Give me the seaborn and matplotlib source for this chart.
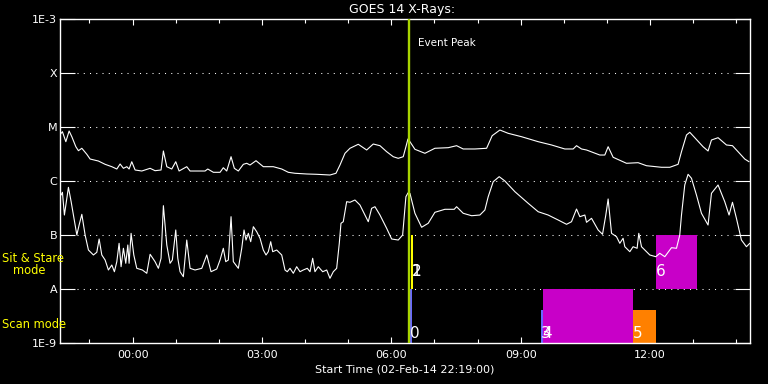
import matplotlib
matplotlib.use("Agg")
import numpy as np
import pandas as pd
import matplotlib.pyplot as plt
import seaborn as sns
from matplotlib.ticker import FixedLocator, NullLocator

# ---------------- data (hours relative to 03-Feb-14 00:00, log10 flux W/m^2) -------------
long_t = [-1.657, -1.627, -1.548, -1.472, -1.409, -1.316, -1.256, -1.177, -1.061, -0.985,
          -0.793, -0.637, -0.482, -0.366, -0.290, -0.213, -0.134, -0.081, -0.019, 0.058,
          0.213, 0.406, 0.521, 0.660, 0.714, 0.793, 0.908, 1.001, 1.078, 1.256,
          1.333, 1.680, 1.743, 1.873, 2.028, 2.104, 2.183, 2.283, 2.359, 2.452,
          2.568, 2.647, 2.723, 2.862, 3.031, 3.263, 3.458, 3.611, 3.766, 4.037,
          4.269, 4.577, 4.716, 4.809, 4.925, 5.041, 5.233, 5.428, 5.581, 5.736,
          5.891, 6.044, 6.160, 6.276, 6.338, 6.385, 6.431, 6.547, 6.779, 7.010,
          7.319, 7.513, 7.666, 7.937, 8.209, 8.338, 8.517, 8.709, 9.020, 9.405,
          9.715, 10.023, 10.216, 10.294, 10.410, 10.526, 10.834, 10.950, 11.027, 11.143,
          11.453, 11.722, 11.917, 12.264, 12.457, 12.649, 12.728, 12.844, 12.920, 13.036,
          13.228, 13.344, 13.423, 13.576, 13.771, 13.910, 14.039, 14.195, 14.294]
long_logf = [-5.117, -5.087, -5.272, -5.074, -5.180, -5.365, -5.439, -5.394, -5.506, -5.593,
             -5.630, -5.691, -5.735, -5.778, -5.685, -5.765, -5.735, -5.778, -5.643, -5.796,
             -5.815, -5.765, -5.809, -5.796, -5.444, -5.735, -5.778, -5.643, -5.815, -5.735,
             -5.815, -5.815, -5.778, -5.839, -5.839, -5.754, -5.815, -5.550, -5.765, -5.815,
             -5.691, -5.672, -5.704, -5.624, -5.735, -5.735, -5.778, -5.839, -5.857, -5.870,
             -5.876, -5.889, -5.857, -5.704, -5.487, -5.394, -5.320, -5.426, -5.315, -5.346,
             -5.457, -5.550, -5.580, -5.550, -5.365, -5.222, -5.272, -5.413, -5.487, -5.394,
             -5.383, -5.346, -5.407, -5.407, -5.394, -5.161, -5.056, -5.117, -5.180, -5.272,
             -5.333, -5.407, -5.407, -5.346, -5.407, -5.426, -5.519, -5.519, -5.365, -5.561,
             -5.672, -5.661, -5.717, -5.746, -5.746, -5.691, -5.457, -5.148, -5.098, -5.198,
             -5.365, -5.444, -5.241, -5.198, -5.333, -5.346, -5.457, -5.593, -5.643]

short_t = [-1.657, -1.627, -1.581, -1.541, -1.488, -1.425, -1.372, -1.293, -1.240, -1.177,
           -1.101, -1.024, -0.908, -0.830, -0.776, -0.714, -0.637, -0.561, -0.482, -0.422,
           -0.366, -0.313, -0.267, -0.213, -0.158, -0.111, -0.081, -0.035, 0.028, 0.097,
           0.227, 0.329, 0.406, 0.521, 0.598, 0.660, 0.714, 0.793, 0.869, 0.922,
           1.001, 1.048, 1.101, 1.177, 1.256, 1.333, 1.448, 1.604, 1.720, 1.819,
           1.951, 2.028, 2.104, 2.160, 2.220, 2.283, 2.336, 2.452, 2.531, 2.584,
           2.630, 2.684, 2.739, 2.800, 2.878, 2.955, 3.031, 3.094, 3.147, 3.203,
           3.249, 3.342, 3.458, 3.534, 3.587, 3.650, 3.727, 3.805, 3.882, 3.958,
           4.051, 4.114, 4.176, 4.229, 4.306, 4.408, 4.501, 4.577, 4.654, 4.732,
           4.793, 4.832, 4.885, 4.964, 5.041, 5.156, 5.272, 5.388, 5.465, 5.543,
           5.620, 5.736, 5.891, 6.007, 6.160, 6.262, 6.338, 6.385, 6.431, 6.547,
           6.702, 6.855, 7.010, 7.242, 7.458, 7.513, 7.666, 7.861, 8.053, 8.169,
           8.246, 8.362, 8.501, 8.633, 8.865, 9.173, 9.405, 9.636, 9.868, 10.063,
           10.178, 10.294, 10.371, 10.487, 10.526, 10.642, 10.795, 10.897, 10.973, 11.027,
           11.106, 11.221, 11.298, 11.374, 11.414, 11.530, 11.606, 11.699, 11.738, 11.801,
           11.877, 11.993, 12.132, 12.225, 12.341, 12.417, 12.496, 12.612, 12.688, 12.728,
           12.804, 12.881, 12.960, 13.075, 13.191, 13.344, 13.423, 13.576, 13.731, 13.831,
           13.910, 14.002, 14.118, 14.234, 14.311]
short_logf = [-6.259, -6.209, -6.630, -6.413, -6.117, -6.383, -6.630, -7.000, -6.815, -6.617,
              -7.000, -7.278, -7.370, -7.320, -7.074, -7.370, -7.463, -7.648, -7.556, -7.680,
              -7.494, -7.154, -7.587, -7.246, -7.524, -7.185, -7.524, -6.969, -7.370, -7.617,
              -7.648, -7.709, -7.357, -7.494, -7.617, -7.431, -6.457, -7.185, -7.524, -7.463,
              -6.907, -7.431, -7.680, -7.772, -7.093, -7.617, -7.648, -7.617, -7.370, -7.680,
              -7.630, -7.463, -7.246, -7.494, -7.463, -6.661, -7.494, -7.617, -7.246, -6.907,
              -7.093, -6.969, -7.124, -6.846, -6.939, -7.061, -7.278, -7.370, -7.309, -7.124,
              -7.309, -7.278, -7.370, -7.648, -7.680, -7.617, -7.709, -7.587, -7.680, -7.648,
              -7.617, -7.680, -7.431, -7.680, -7.587, -7.680, -7.648, -7.802, -7.680, -7.617,
              -7.154, -6.783, -6.754, -6.383, -6.394, -6.352, -6.444, -6.630, -6.754, -6.506,
              -6.476, -6.630, -6.876, -7.074, -7.093, -7.000, -6.291, -6.222, -6.228, -6.598,
              -6.857, -6.783, -6.580, -6.524, -6.524, -6.476, -6.598, -6.643, -6.630, -6.537,
              -6.291, -6.013, -5.920, -6.000, -6.198, -6.413, -6.569, -6.630, -6.722, -6.802,
              -6.754, -6.519, -6.661, -6.630, -6.765, -6.691, -6.907, -6.987, -6.630, -6.333,
              -6.969, -7.031, -7.154, -7.061, -7.217, -7.309, -7.217, -7.246, -6.969, -7.217,
              -7.278, -7.370, -7.402, -7.339, -7.402, -7.320, -7.235, -7.246, -7.000, -6.630,
              -6.074, -5.876, -5.950, -6.259, -6.598, -6.815, -6.228, -6.074, -6.383, -6.630,
              -6.394, -6.691, -7.093, -7.217, -7.154]

event_peak = 6.412

ev_label = ["0", "1", "2", "3", "4", "5", "6"]
ev_start = [6.435, 6.455, 6.470, 9.467, 9.506, 11.599, 12.132]
ev_end = [6.475, 6.505, 6.505, 9.506, 11.599, 12.132, 13.082]
ev_low = [1e-9, 1e-8, 1e-8, 1e-9, 1e-9, 1e-9, 1e-8]
ev_high = [1e-8, 1e-7, 1e-7, 10 ** -8.39, 1e-8, 10 ** -8.39, 1e-7]
ev_color = ["#6868ff", "#ffff00", "#ffff00", "#6868ff", "#c800c8", "#ff8000", "#c800c8"]

xtick_pos = [0, 3, 6, 9, 12]
xtick_lab = ["00:00", "03:00", "06:00", "09:00", "12:00"]
ytick_pos = [1e-9, 1e-8, 1e-7, 1e-6, 1e-5, 1e-4, 1e-3]
ytick_lab = ["1E-9", "A", "B", "C", "M", "X", "1E-3"]

# ---------------- figure -------------------------------------------------------------
sns.set_theme(style="dark")
plt.rcParams["font.family"] = ["DejaVu Sans"]

W, H = 768, 384
fig = plt.figure(figsize=(W / 100, H / 100), dpi=100, facecolor="black")
ax = fig.add_axes([60 / W, (H - 343) / H, 690 / W, 324 / H])
ax.set_facecolor("black")
ax.set_yscale("log")

df = pd.concat([
    pd.DataFrame({"time": long_t, "flux": 10 ** np.array(long_logf), "channel": "long"}),
    pd.DataFrame({"time": short_t, "flux": 10 ** np.array(short_logf), "channel": "short"}),
])
sns.lineplot(data=df, x="time", y="flux", hue="channel", palette=["white", "white"],
             estimator=None, sort=False, linewidth=0.8, legend=False, ax=ax, zorder=3)

# dotted level lines
for yv in ytick_pos[1:-1]:
    ax.axhline(yv, xmin=17 / 690, xmax=674 / 690, color="white", lw=0.75,
               ls=(0, (1, 5)), zorder=1)

# event bars
for lab, s, e, lo, hi, c in zip(ev_label, ev_start, ev_end, ev_low, ev_high, ev_color):
    ax.bar(s, hi - lo, bottom=lo, width=e - s, align="edge", color=c, lw=0, zorder=2)

ax.axvline(event_peak, color="#a8d400", lw=1.7, zorder=4)
ax.text(event_peak + 0.2, 10 ** -3.45, "Event Peak", color="white", fontsize=7.5,
        va="center", ha="left")

# event labels (overlapping numbers as in the original)
for lab, s, lo in zip(ev_label, ev_start, ev_low):
    yv = 10 ** -8.815 if lo < 5e-9 else 10 ** -7.685
    ax.text(s, yv, lab, color="white", fontsize=11, va="center", ha="left", zorder=5)

ax.set_xlim(-1.6833, 14.3167)
ax.set_ylim(1e-9, 1e-3)
ax.xaxis.set_major_locator(FixedLocator(xtick_pos))
ax.set_xticklabels(xtick_lab)
ax.xaxis.set_minor_locator(FixedLocator(list(range(-1, 15))))
ax.yaxis.set_major_locator(FixedLocator(ytick_pos))
ax.yaxis.set_minor_locator(NullLocator())
ax.set_yticklabels(ytick_lab)
ax.set_xlabel("")
ax.set_ylabel("")
ax.grid(False)

ax.tick_params(axis="x", which="major", direction="in", length=4.5, width=0.8,
               top=True, bottom=True, colors="white", labelsize=8, pad=5)
ax.tick_params(axis="x", which="minor", direction="in", length=3, width=0.8,
               top=True, bottom=True, colors="white")
ax.tick_params(axis="y", which="major", direction="in", length=11, width=0.8,
               left=True, right=True, colors="white", labelsize=8, pad=2)
for sp in ax.spines.values():
    sp.set_color("white")
    sp.set_linewidth(1.0)
    sp.set_visible(True)

fig.text(402 / W, 1 - 9 / H, "GOES 14 X-Rays:", color="white", fontsize=9,
         ha="center", va="center")
fig.text(405 / W, 1 - 369 / H, "Start Time (02-Feb-14 22:19:00)", color="white",
         fontsize=8, ha="center", va="center")
fig.text(2 / W, 1 - 259 / H, "Sit & Stare", color="#ffff00", fontsize=8.3,
         ha="left", va="center")
fig.text(13 / W, 1 - 271 / H, "mode", color="#ffff00", fontsize=8.3,
         ha="left", va="center")
fig.text(2 / W, 1 - 324 / H, "Scan mode", color="#ffff00", fontsize=8.3,
         ha="left", va="center")

fig.savefig("out.png", dpi=100, facecolor="black")
